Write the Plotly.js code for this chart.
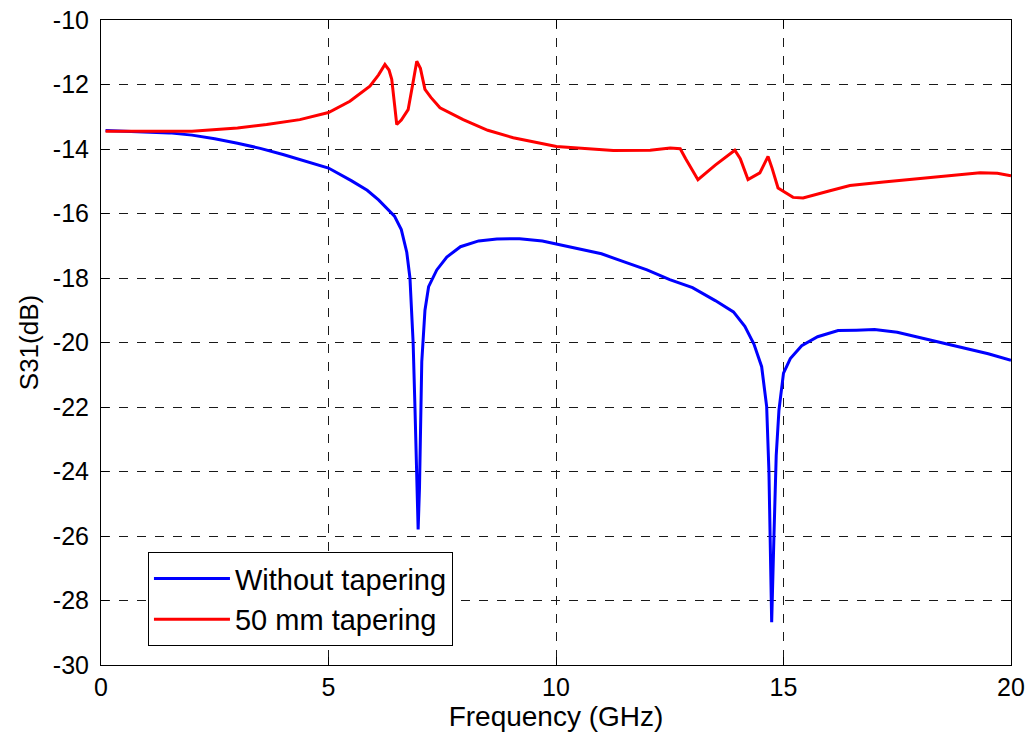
<!DOCTYPE html>
<html>
<head>
<meta charset="utf-8">
<script src="https://cdn.plot.ly/plotly-3.0.1.min.js"></script>
<style>html,body{margin:0;padding:0;background:#fff;}#chart{width:1027px;height:735px;}</style>
</head>
<body>
<div id="chart"></div>
<script>
const freqBlue = [0.1, 0.5, 1, 1.5, 2, 2.5, 3, 3.5, 4, 4.5, 5, 5.5, 5.85, 6.1, 6.35, 6.45, 6.6, 6.72, 6.79, 6.86, 6.9, 6.94, 6.97, 7.0, 7.05, 7.12, 7.2, 7.38, 7.6, 7.9, 8.3, 8.7, 9.2, 9.7, 10, 10.5, 11, 11.5, 12, 12.5, 13, 13.5, 13.9, 14.15, 14.35, 14.52, 14.63, 14.68, 14.74, 14.79, 14.84, 14.9, 15.0, 15.15, 15.4, 15.75, 16.2, 16.6, 17.0, 17.5, 18, 18.5, 19, 19.5, 20];
const s31Blue = [-13.43, -13.45, -13.47, -13.5, -13.57, -13.68, -13.82, -13.98, -14.17, -14.37, -14.59, -14.98, -15.28, -15.58, -15.92, -16.08, -16.5, -17.2, -18.0, -20.0, -22.0, -24.0, -25.8, -24.5, -20.6, -19.0, -18.27, -17.75, -17.35, -17.03, -16.85, -16.79, -16.78, -16.85, -16.94, -17.08, -17.25, -17.5, -17.75, -18.05, -18.3, -18.7, -19.05, -19.5, -20.05, -20.75, -21.99, -24.0, -28.67, -26.0, -23.5, -22.1, -20.95, -20.5, -20.1, -19.82, -19.63, -19.62, -19.6, -19.68, -19.85, -20.0, -20.17, -20.35, -20.55];

const freqRed = [0.1, 1, 2, 3, 3.64, 4.37, 5, 5.47, 5.91, 6.1, 6.24, 6.33, 6.39, 6.45, 6.5, 6.6, 6.75, 6.85, 6.94, 7.02, 7.12, 7.25, 7.45, 7.96, 8.5, 9.06, 10.01, 11.26, 12.07, 12.51, 12.73, 12.85, 13.12, 13.5, 13.93, 14.05, 14.22, 14.48, 14.6, 14.66, 14.75, 14.88, 15.21, 15.43, 16.0, 16.46, 17.2, 17.85, 18.5, 19.32, 19.7, 20];
const s31Red = [-13.45, -13.45, -13.45, -13.35, -13.24, -13.09, -12.87, -12.52, -12.05, -11.7, -11.38, -11.55, -11.84, -12.6, -13.24, -13.1, -12.78, -12.0, -11.28, -11.5, -12.15, -12.4, -12.72, -13.09, -13.42, -13.65, -13.92, -14.05, -14.04, -13.97, -13.99, -14.3, -14.95, -14.5, -14.04, -14.3, -14.95, -14.74, -14.4, -14.23, -14.6, -15.21, -15.5, -15.52, -15.3, -15.13, -15.02, -14.93, -14.85, -14.74, -14.75, -14.83];

const seriesNames = ['Without tapering', '50 mm tapering'];
const xTicks = [0, 5, 10, 15, 20];
const xTickText = ['0', '5', '10', '15', '20'];
const yTicks = [-30, -28, -26, -24, -22, -20, -18, -16, -14, -12, -10];
const yTickText = ['-30', '-28', '-26', '-24', '-22', '-20', '-18', '-16', '-14', '-12', '-10'];

const fontFam = 'Liberation Sans, Arial, sans-serif';
const axisCommon = {
  showline: true, linecolor: '#000', linewidth: 1, mirror: 'ticks',
  ticks: 'inside', ticklen: 8, tickcolor: '#000', tickwidth: 1,
  showgrid: true, gridcolor: '#1a1a1a', griddash: 'dash', gridwidth: 1,
  zeroline: false, automargin: false,
  tickfont: {family: fontFam, size: 25, color: '#000'}
};

const data = [
  {x: freqBlue, y: s31Blue, type: 'scatter', mode: 'lines', name: seriesNames[0],
   line: {color: '#0000ff', width: 3}},
  {x: freqRed, y: s31Red, type: 'scatter', mode: 'lines', name: seriesNames[1],
   line: {color: '#ff0000', width: 3}}
];

const layout = {
  width: 1027, height: 735,
  margin: {l: 101, r: 16, t: 20, b: 70},
  paper_bgcolor: '#fff', plot_bgcolor: '#fff',
  font: {family: fontFam, color: '#000'},
  xaxis: Object.assign({}, axisCommon, {
    range: [0, 20], tickvals: xTicks, ticktext: xTickText,
    title: {text: 'Frequency (GHz)', font: {family: fontFam, size: 28, color: '#000'}, standoff: 2}
  }),
  yaxis: Object.assign({}, axisCommon, {
    range: [-30, -10], tickvals: yTicks, ticktext: yTickText, ticklabelstandoff: 6,
    title: {text: 'S31(dB)', font: {family: fontFam, size: 26, color: '#000'}, standoff: 6}
  }),
  showlegend: true,
  legend: {
    x: 0.0516, y: 0.175, xanchor: 'left', yanchor: 'top',
    bgcolor: '#fff', bordercolor: '#000', borderwidth: 1,
    font: {family: fontFam, size: 29, color: '#000'},
    tracegroupgap: 0, itemwidth: 76
  }
};

Plotly.newPlot('chart', data, layout, {displayModeBar: false, staticPlot: true});
</script>
</body>
</html>
